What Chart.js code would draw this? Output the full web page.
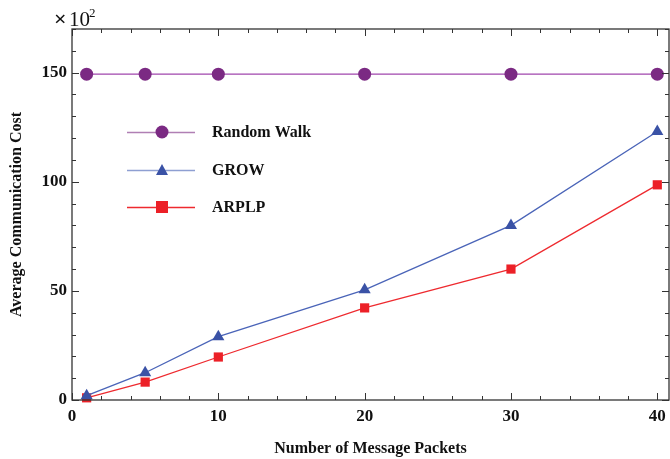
<!DOCTYPE html>
<html>
<head>
<meta charset="utf-8">
<script src="https://cdn.jsdelivr.net/npm/chart.js@4"></script>
<style>
  html, body { margin: 0; padding: 0; background: #fff; }
  #wrap { width: 670px; height: 459px; }
</style>
</head>
<body>
<div id="wrap"><canvas id="costChart" width="670" height="459"></canvas></div>
<script>
// values, y in units of 10^2
const packets = [1, 5, 10, 20, 30, 40];
const randomWalk = [149.3, 149.3, 149.3, 149.3, 149.3, 149.3];
const grow = [2, 12.5, 29, 50.5, 80, 123];
const arplp = [1, 8.2, 19.7, 42.2, 60, 98.6];
const xMajor = [0, 10, 20, 30, 40];
const yMajor = [0, 50, 100, 150];

const serif = '"Liberation Serif", "DejaVu Serif", serif';

function toPoints(ys) {
    return packets.map(function (x, i) { return { x: x, y: ys[i] }; });
}

const series = [
    { label: 'Random Walk', data: randomWalk, line: '#a046ad', fill: '#7b2a83', legendLine: '#b07fb4', style: 'circle', r: 6.5 },
    { label: 'GROW', data: grow, line: '#4a64b8', fill: '#3a52a6', legendLine: '#8e9fd2', style: 'triangle', r: 7 },
    { label: 'ARPLP', data: arplp, line: '#ee2a2f', fill: '#ec2027', legendLine: '#ee2a2f', style: 'rect', r: 6.5 }
];

// inward ticks + frame on all four sides, x tick labels, exponent
const framePlugin = {
    id: 'frame',
    afterDraw: function (chart) {
        const ctx = chart.ctx;
        const a = chart.chartArea;
        const xs = chart.scales.x, ys = chart.scales.y;
        ctx.save();
        ctx.strokeStyle = '#333';
        ctx.lineWidth = 1.3;
        ctx.strokeRect(a.left, a.top, a.right - a.left, a.bottom - a.top);
        ctx.lineWidth = 1;
        ctx.beginPath();
        for (let v = 0; v <= 40; v += 2) {
            const px = Math.round(xs.getPixelForValue(v)) + 0.5;
            const len = v % 10 === 0 ? 7 : 4;
            ctx.moveTo(px, a.bottom); ctx.lineTo(px, a.bottom - len);
            ctx.moveTo(px, a.top); ctx.lineTo(px, a.top + len);
        }
        for (let v = 0; v <= 170; v += 10) {
            const py = Math.round(ys.getPixelForValue(v)) + 0.5;
            const len = v % 50 === 0 ? 7 : 4;
            ctx.moveTo(a.left, py); ctx.lineTo(a.left + len, py);
            ctx.moveTo(a.right, py); ctx.lineTo(a.right - len, py);
        }
        ctx.stroke();

        ctx.fillStyle = '#111';
        ctx.font = 'bold 17px ' + serif;
        ctx.textAlign = 'center';
        ctx.textBaseline = 'middle';
        xMajor.forEach(function (v) {
            ctx.fillText(String(v), xs.getPixelForValue(v), a.bottom + 17);
        });

        // exponent label
        ctx.textBaseline = 'alphabetic';
        ctx.textAlign = 'left';
        ctx.font = 'bold 22px ' + serif;
        ctx.fillText('\u00d7', 54, 26);
        ctx.font = '21px ' + serif;
        ctx.fillText('10', 69, 26);
        ctx.font = '13px ' + serif;
        ctx.fillText('2', 89, 17);
        ctx.restore();
    }
};

// legend drawn inside plot area
const legendPlugin = {
    id: 'innerLegend',
    afterDraw: function (chart) {
        const ctx = chart.ctx;
        const rows = [132, 170, 207];
        ctx.save();
        series.forEach(function (s, i) {
            const y = rows[i];
            ctx.strokeStyle = s.legendLine;
            ctx.lineWidth = 1.3;
            ctx.beginPath();
            ctx.moveTo(127, y + 0.5);
            ctx.lineTo(195, y + 0.5);
            ctx.stroke();
            ctx.fillStyle = s.fill;
            ctx.beginPath();
            if (s.style === 'circle') {
                ctx.arc(162, y, 6.5, 0, Math.PI * 2);
            } else if (s.style === 'triangle') {
                ctx.moveTo(162, y - 6); ctx.lineTo(168, y + 5); ctx.lineTo(156, y + 5); ctx.closePath();
            } else {
                ctx.rect(156, y - 6, 12, 12);
            }
            ctx.fill();
            ctx.fillStyle = '#111';
            ctx.font = 'bold 16px ' + serif;
            ctx.textBaseline = 'middle';
            ctx.fillText(s.label, 212, y + 1);
        });
        ctx.restore();
    }
};

new Chart(document.getElementById('costChart'), {
    type: 'line',
    data: {
        datasets: series.map(function (s) {
            return {
                label: s.label,
                data: toPoints(s.data),
                borderColor: s.line,
                backgroundColor: s.fill,
                borderWidth: 1.3,
                pointStyle: s.style,
                pointRadius: s.r,
                pointBorderWidth: 0,
                pointBackgroundColor: s.fill,
                clip: false,
                tension: 0
            };
        })
    },
    options: {
        responsive: false,
        animation: false,
        layout: { autoPadding: false, padding: { top: 29, right: 1, left: 0, bottom: 0 } },
        plugins: {
            legend: { display: false },
            tooltip: { enabled: false }
        },
        scales: {
            x: {
                type: 'linear',
                min: 0,
                max: 40.8,
                grid: { display: false, drawTicks: false },
                border: { display: false },
                afterFit: function (scale) { scale.height = 59; },
                ticks: { display: false },
                title: {
                    display: true,
                    text: 'Number of Message Packets',
                    color: '#111',
                    font: { family: serif, size: 16, weight: 'bold' },
                    padding: { top: 0, bottom: 1 }
                }
            },
            y: {
                min: 0,
                max: 170,
                grid: { display: false, drawTicks: false },
                border: { display: false },
                afterFit: function (scale) { scale.width = 72; },
                afterBuildTicks: function (scale) {
                    scale.ticks = yMajor.map(function (v) { return { value: v }; });
                },
                ticks: {
                    padding: 5,
                    color: '#111',
                    font: { family: serif, size: 17, weight: 'bold' }
                },
                title: {
                    display: true,
                    text: 'Average Communication Cost',
                    color: '#111',
                    font: { family: serif, size: 16, weight: 'bold' },
                    padding: { top: 7, bottom: 0 }
                }
            }
        }
    },
    plugins: [framePlugin, legendPlugin]
});
</script>
</body>
</html>
